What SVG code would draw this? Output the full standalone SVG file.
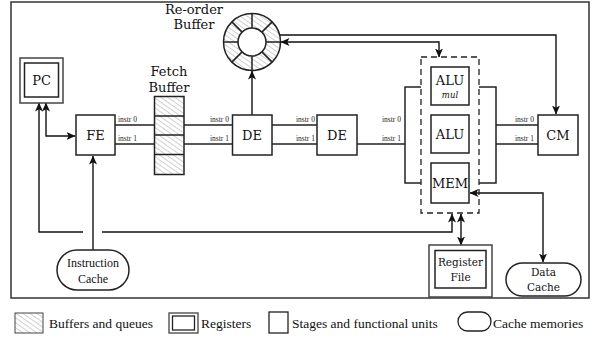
<svg xmlns="http://www.w3.org/2000/svg" width="599" height="340" viewBox="0 0 599 340">
<defs>
<pattern id="hatch" width="4" height="4" patternUnits="userSpaceOnUse" patternTransform="rotate(-55)">
<rect width="4" height="4" fill="#fff"/>
<line x1="0" y1="0" x2="0" y2="4" stroke="#777" stroke-width="0.7"/>
</pattern>
<marker id="arr" viewBox="0 0 9 8" refX="8.5" refY="4" markerWidth="9" markerHeight="8" markerUnits="userSpaceOnUse" orient="auto-start-reverse">
<path d="M0,0 L9,4 L0,8 L2.2,4 z" fill="#111"/>
</marker>
<style>
.box{fill:#fff;stroke:#222;stroke-width:1.5}
.reg{fill:#fff;stroke:#444;stroke-width:1.5}
.buf{fill:url(#hatch);stroke:#222;stroke-width:1.5}
.lbl{font-family:"DejaVu Serif",serif;font-size:13px;fill:#111;text-anchor:middle}
.sm{font-family:"DejaVu Serif",serif;font-size:10.5px;fill:#111;text-anchor:middle}
.ins{font-family:"Liberation Serif",serif;font-size:7.5px;fill:#222}
.leg{font-family:"Liberation Serif",serif;font-size:13.5px;fill:#111}
.ln{fill:none;stroke:#222;stroke-width:1.5}
.ar{fill:none;stroke:#111;stroke-width:1.4;marker-end:url(#arr)}
.ar2{fill:none;stroke:#111;stroke-width:1.4;marker-end:url(#arr);marker-start:url(#arr)}
</style>
</defs>
<rect width="599" height="340" fill="#fff"/>
<rect x="11" y="2" width="578" height="296" fill="none" stroke="#333" stroke-width="1.5"/>

<g id="connectors">
<path class="ar2" d="M46,103 V136 H75"/>
<path class="ar2" d="M39,103 V232 H83 M102,232 H452 V214"/>
<path class="ar" d="M93,250 V156"/>
<path class="ln" d="M115,125 H154 M115,144 H154"/>
<path class="ln" d="M184,125 H232 M184,144 H232"/>
<path class="ln" d="M272,125 H317 M272,144 H317"/>
<path class="ln" d="M357,144 H405"/>
<path class="ln" d="M421,87 H405 V183 H421"/>
<path class="ln" d="M479,87 H496 V183 H479"/>
<path class="ln" d="M496,125 H538 M496,144 H538"/>
<path class="ar" d="M252,115 V71"/>
<path class="ar" d="M280,35 H556 V114"/>
<path class="ar2" d="M281,42 H439 V57"/>
<path class="ar2" d="M470,193 H543 V262"/>
<path class="ar2" d="M461,214 V245"/>
<text class="ins" x="118" y="122">instr 0</text>
<text class="ins" x="118" y="141">instr 1</text>
<text class="ins" x="229" y="122" text-anchor="end">instr 0</text>
<text class="ins" x="229" y="141" text-anchor="end">instr 1</text>
<text class="ins" x="315" y="122" text-anchor="end">instr 0</text>
<text class="ins" x="315" y="141" text-anchor="end">instr 1</text>
<text class="ins" x="401" y="122" text-anchor="end">instr 0</text>
<text class="ins" x="401" y="141" text-anchor="end">instr 1</text>
<text class="ins" x="534" y="122" text-anchor="end">instr 0</text>
<text class="ins" x="534" y="141" text-anchor="end">instr 1</text>
</g>

<g id="pc">
<rect class="reg" x="20" y="58" width="43" height="45"/>
<rect class="box" x="24.5" y="63" width="34" height="34"/>
<text class="lbl" x="41.5" y="85">PC</text>
</g>

<g id="fe">
<rect class="box" x="76" y="115" width="39" height="40"/>
<text class="lbl" x="95.5" y="140">FE</text>
</g>

<g id="icache">
<rect class="box" x="57" y="250" width="72" height="40" rx="20" ry="20"/>
<text x="93" y="267" font-family="Liberation Serif, serif" font-size="12" text-anchor="middle" fill="#111">Instruction</text>
<text x="93" y="283" font-family="Liberation Serif, serif" font-size="12" text-anchor="middle" fill="#111">Cache</text>
</g>

<g id="fetchbuffer">
<text class="lbl" x="169" y="76">Fetch</text>
<text class="lbl" x="169" y="92">Buffer</text>
<rect class="buf" x="154.5" y="96.5" width="29.5" height="78"/>
<path class="ln" d="M154.5,116 H184 M154.5,135 H184 M154.5,154.5 H184"/>
</g>

<g id="de1">
<rect class="box" x="232.5" y="115" width="39.5" height="40"/>
<text class="lbl" x="252" y="140">DE</text>
</g>

<g id="de2">
<rect class="box" x="317" y="115" width="40" height="40"/>
<text class="lbl" x="337" y="140">DE</text>
</g>

<g id="rob">
<text class="lbl" x="194" y="14">Re-order</text>
<text class="lbl" x="194" y="29">Buffer</text>
<circle cx="252" cy="42" r="28.5" fill="url(#hatch)" stroke="#222" stroke-width="1.5"/>
<circle cx="252" cy="42" r="14" fill="#fff" stroke="#222" stroke-width="1.5"/>
<path class="ln" d="M266,42 H280.5 M261.9,51.9 L272.15,62.15 M252,56 V70.5 M242.1,51.9 L231.85,62.15 M238,42 H223.5 M242.1,32.1 L231.85,21.85 M252,28 V13.5 M261.9,32.1 L272.15,21.85"/>
</g>

<g id="exec">
<rect x="421" y="57" width="58" height="156" fill="none" stroke="#222" stroke-width="1.3" stroke-dasharray="6,4"/>
</g>

<g id="alumul">
<rect class="box" x="431" y="67" width="38" height="38"/>
<text class="lbl" x="450" y="85">ALU</text>
<text x="450" y="98" font-family="DejaVu Serif, serif" font-style="italic" font-size="8.5" text-anchor="middle" fill="#111">mul</text>
</g>

<g id="alu">
<rect class="box" x="431" y="115" width="38" height="38"/>
<text class="lbl" x="450" y="139">ALU</text>
</g>

<g id="mem">
<rect class="box" x="431" y="163" width="38" height="40"/>
<text class="lbl" x="450" y="188">MEM</text>
</g>

<g id="cm">
<rect class="box" x="538" y="115" width="40" height="40"/>
<text class="lbl" x="558" y="140">CM</text>
</g>

<g id="regfile">
<rect class="reg" x="429" y="245" width="63" height="52"/>
<rect class="box" x="435" y="250.5" width="51" height="37.5"/>
<text class="sm" x="460.5" y="266">Register</text>
<text class="sm" x="460.5" y="281">File</text>
</g>

<g id="dcache">
<rect class="box" x="506" y="263" width="75" height="33" rx="16.5" ry="16.5"/>
<text class="sm" x="543.5" y="276" font-size="10">Data</text>
<text class="sm" x="543.5" y="291" font-size="10">Cache</text>
</g>

<g id="legend">
<rect x="15" y="313" width="28" height="20" fill="url(#hatch)" stroke="#444" stroke-width="1"/>
<text class="leg" x="49" y="328">Buffers and queues</text>
<rect x="169" y="313" width="29" height="20" fill="#fff" stroke="#444" stroke-width="1.3"/>
<rect x="172.5" y="316" width="22" height="14" fill="#fff" stroke="#222" stroke-width="1.3"/>
<text class="leg" x="201" y="328">Registers</text>
<rect x="269" y="312" width="19" height="21" fill="#fff" stroke="#222" stroke-width="1.3"/>
<text class="leg" x="292" y="328">Stages and functional units</text>
<rect x="458" y="312" width="33" height="19" rx="9.5" ry="9.5" fill="#fff" stroke="#222" stroke-width="1.3"/>
<text class="leg" x="493" y="328">Cache memories</text>
</g>
</svg>
